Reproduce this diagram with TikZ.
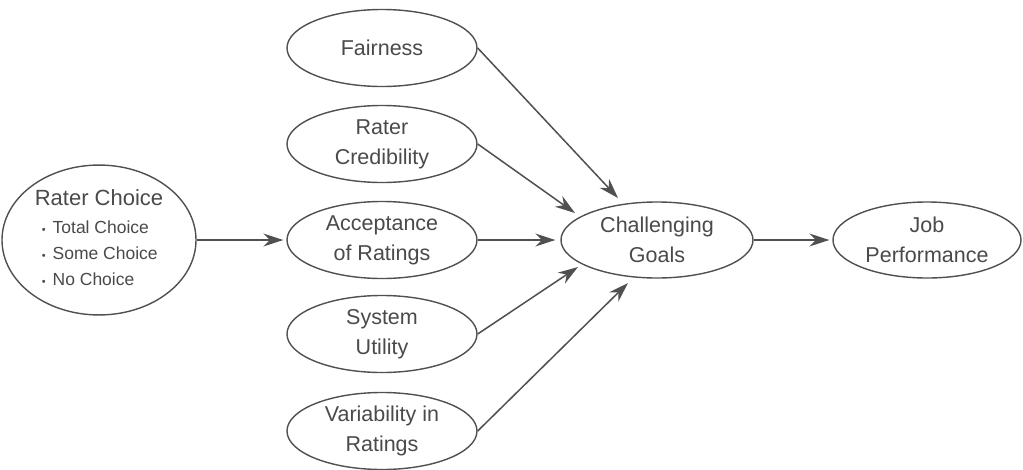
\documentclass[tikz,border=0pt]{standalone}
\usepackage{fontspec}
\setmainfont{Liberation Sans}
\usetikzlibrary{shapes.geometric,arrows.meta}
\definecolor{ink}{HTML}{4A4A4A}
\definecolor{edge}{HTML}{505050}
\begin{document}
\begin{tikzpicture}[x=1pt,y=-1pt,
  oval/.style={ellipse,draw=edge,line width=1.4pt,inner sep=0pt,
    minimum width=190pt,minimum height=77pt,align=center,text=ink,
    font=\fontsize{21.5}{30}\selectfont},
  link/.style={draw=edge,line width=1.5pt,-{Stealth[length=20pt,width=13pt]}}]
\useasboundingbox[fill=white] (0,0) rectangle (1023,469);

% source variable with its three levels
\node[oval,minimum width=194pt,minimum height=132pt,font=\fontsize{17.5}{26}\selectfont] (rc) at (99,240)
  {\begin{tabular}{@{}l@{}}
   {\fontsize{22}{26}\selectfont Rater Choice}\\[2pt]
   \hspace{7pt}{\fontsize{11}{11}\selectfont\textbullet}\hspace{7pt}Total Choice\\
   \hspace{7pt}{\fontsize{11}{11}\selectfont\textbullet}\hspace{7pt}Some Choice\\
   \hspace{7pt}{\fontsize{11}{11}\selectfont\textbullet}\hspace{7pt}No Choice
   \end{tabular}};

% mediating reactions
\node[oval] (fair) at (382,48)  {Fairness};
\node[oval] (cred) at (382,144) {Rater\\Credibility};
\node[oval] (acc)  at (382,240) {Acceptance\\of Ratings};
\node[oval] (sys)  at (382,334) {System\\Utility};
\node[oval] (var)  at (382,431) {Variability in\\Ratings};

% outcomes
\node[oval,minimum width=192pt,minimum height=76pt] (cg) at (657,240) {Challenging\\Goals};
\node[oval,minimum width=188pt,minimum height=76pt] (jp) at (927,240) {Job\\Performance};

% connectors
\draw[link,shorten >=3pt] (rc.east) -- (acc.west);
\draw[link] (fair.east) -- ([shift={(-39,-42)}]cg.center);
\draw[link] (cred.east) -- ([shift={(-82,-27)}]cg.center);
\draw[link,shorten >=5pt] (acc.east) -- (cg.west);
\draw[link] (sys.east) -- ([shift={(-79,27)}]cg.center);
\draw[link] (var.east) -- ([shift={(-29,43)}]cg.center);
\draw[link,shorten >=3pt] (cg.east) -- (jp.west);
\end{tikzpicture}
\end{document}
